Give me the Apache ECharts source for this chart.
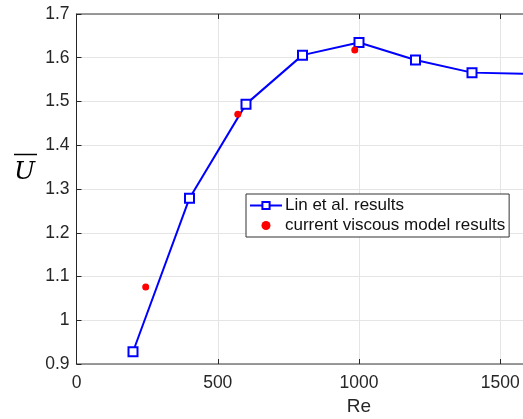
<!DOCTYPE html>
<html>
<head>
<meta charset="utf-8">
<script src="https://cdn.jsdelivr.net/npm/echarts@6/dist/echarts.min.js"></script>
<style>
  html, body { margin: 0; padding: 0; background: #fff; }
  #chart { width: 523px; height: 419px; }
</style>
</head>
<body>
<div id="chart"></div>
<script>
// Reynolds numbers and mean velocity, reference data (Lin et al.)
const linRe = [200, 400, 600, 800, 1000, 1200, 1400, 1600];
const linU = [0.928, 1.279, 1.494, 1.606, 1.635, 1.595, 1.566, 1.563];

// Results of the current viscous model
const modelRe = [245, 571, 985];
const modelU = [1.076, 1.471, 1.618];

// Axis ticks
const xTicks = [0, 500, 1000, 1500, 2000];
const yTicks = [0.9, 1, 1.1, 1.2, 1.3, 1.4, 1.5, 1.6, 1.7];

const FONT = 'Liberation Sans, Arial, Helvetica, sans-serif';
const AXIS_DARK = '#262626';
const AXIS_GREY = '#7a7a7a';
const GRID_C = '#e5e5e5';
const TICK_FS = 17.5;

const chart = echarts.init(document.getElementById('chart'), null, { renderer: 'canvas' });

const xCommon = {
  type: 'value',
  min: xTicks[0],
  max: xTicks[xTicks.length - 1],
  interval: 500,
};

chart.setOption({
  animation: false,
  backgroundColor: '#ffffff',
  grid: {
    left: 76.5, top: 14, width: 565, height: 350,
    containLabel: false, outerBoundsMode: 'none',
  },
  xAxis: [
    Object.assign({}, xCommon, {
      position: 'bottom',
      name: 'Re',
      nameLocation: 'middle',
      nameGap: 32,
      nameTextStyle: { fontFamily: FONT, fontSize: 19, color: AXIS_DARK },
      axisLine: { show: true, onZero: false, lineStyle: { color: AXIS_GREY, width: 1.5 } },
      axisTick: { show: true, inside: true, length: 5, lineStyle: { color: AXIS_DARK } },
      axisLabel: {
        fontFamily: FONT, fontSize: TICK_FS, color: AXIS_DARK, margin: 10,
        formatter: v => String(Math.round(v)),
      },
      splitLine: { show: true, lineStyle: { color: GRID_C, width: 1 } },
    }),
    Object.assign({}, xCommon, {
      position: 'top',
      axisLine: { show: true, onZero: false, lineStyle: { color: AXIS_GREY, width: 1.5 } },
      axisTick: { show: true, inside: true, length: 5, lineStyle: { color: AXIS_DARK } },
      axisLabel: { show: false },
      splitLine: { show: false },
    }),
  ],
  yAxis: {
    type: 'value',
    min: 0.9,
    max: 1.7,
    interval: 0.1,
    axisLine: { show: true, onZero: false, lineStyle: { color: AXIS_DARK, width: 1 } },
    axisTick: { show: true, inside: true, length: 5, lineStyle: { color: AXIS_DARK } },
    axisLabel: {
      fontFamily: FONT, fontSize: TICK_FS, color: AXIS_DARK, margin: 7,
      formatter: v => {
        const t = yTicks.find(y => Math.abs(y - v) < 1e-6);
        return t === undefined ? '' : String(+t.toFixed(1));
      },
    },
    splitLine: { show: true, lineStyle: { color: GRID_C, width: 1 } },
  },
  legend: {
    left: 246,
    top: 194,
    orient: 'vertical',
    backgroundColor: '#ffffff',
    borderColor: '#333333',
    borderWidth: 1,
    borderRadius: 0,
    padding: [3, 4, 3, 3],
    itemGap: 3,
    itemWidth: 32,
    itemHeight: 9,
    textStyle: { fontFamily: FONT, fontSize: 17, color: '#111', padding: [0, 0, 0, -2] },
    data: [
      { name: 'Lin et al. results' },
      { name: 'current viscous model results', itemStyle: { opacity: 1 } },
    ],
  },
  series: [
    {
      name: 'Lin et al. results',
      type: 'line',
      data: linRe.map((r, i) => [r, linU[i]]),
      symbol: 'rect',
      symbolSize: 9,
      itemStyle: { color: '#ffffff', borderColor: '#0000ff', borderWidth: 2 },
      lineStyle: { color: '#0000ff', width: 2 },
      z: 3,
    },
    {
      name: 'current viscous model results',
      type: 'scatter',
      data: modelRe.map((r, i) => [r, modelU[i]]),
      symbol: 'circle',
      symbolSize: 7,
      itemStyle: { color: '#ff0000', opacity: 1 },
      z: 4,
    },
  ],
  graphic: [
    {
      type: 'text',
      x: 14,
      y: 185,
      style: {
        text: 'U',
        fontFamily: 'DejaVu Serif, Liberation Serif, serif',
        fontStyle: 'italic',
        fontSize: 25,
        fill: '#000',
        verticalAlign: 'bottom',
      },
    },
    {
      type: 'line',
      shape: { x1: 14, y1: 154.5, x2: 37, y2: 154.5 },
      style: { stroke: '#000', lineWidth: 1.5 },
    },
  ],
});
</script>
</body>
</html>
